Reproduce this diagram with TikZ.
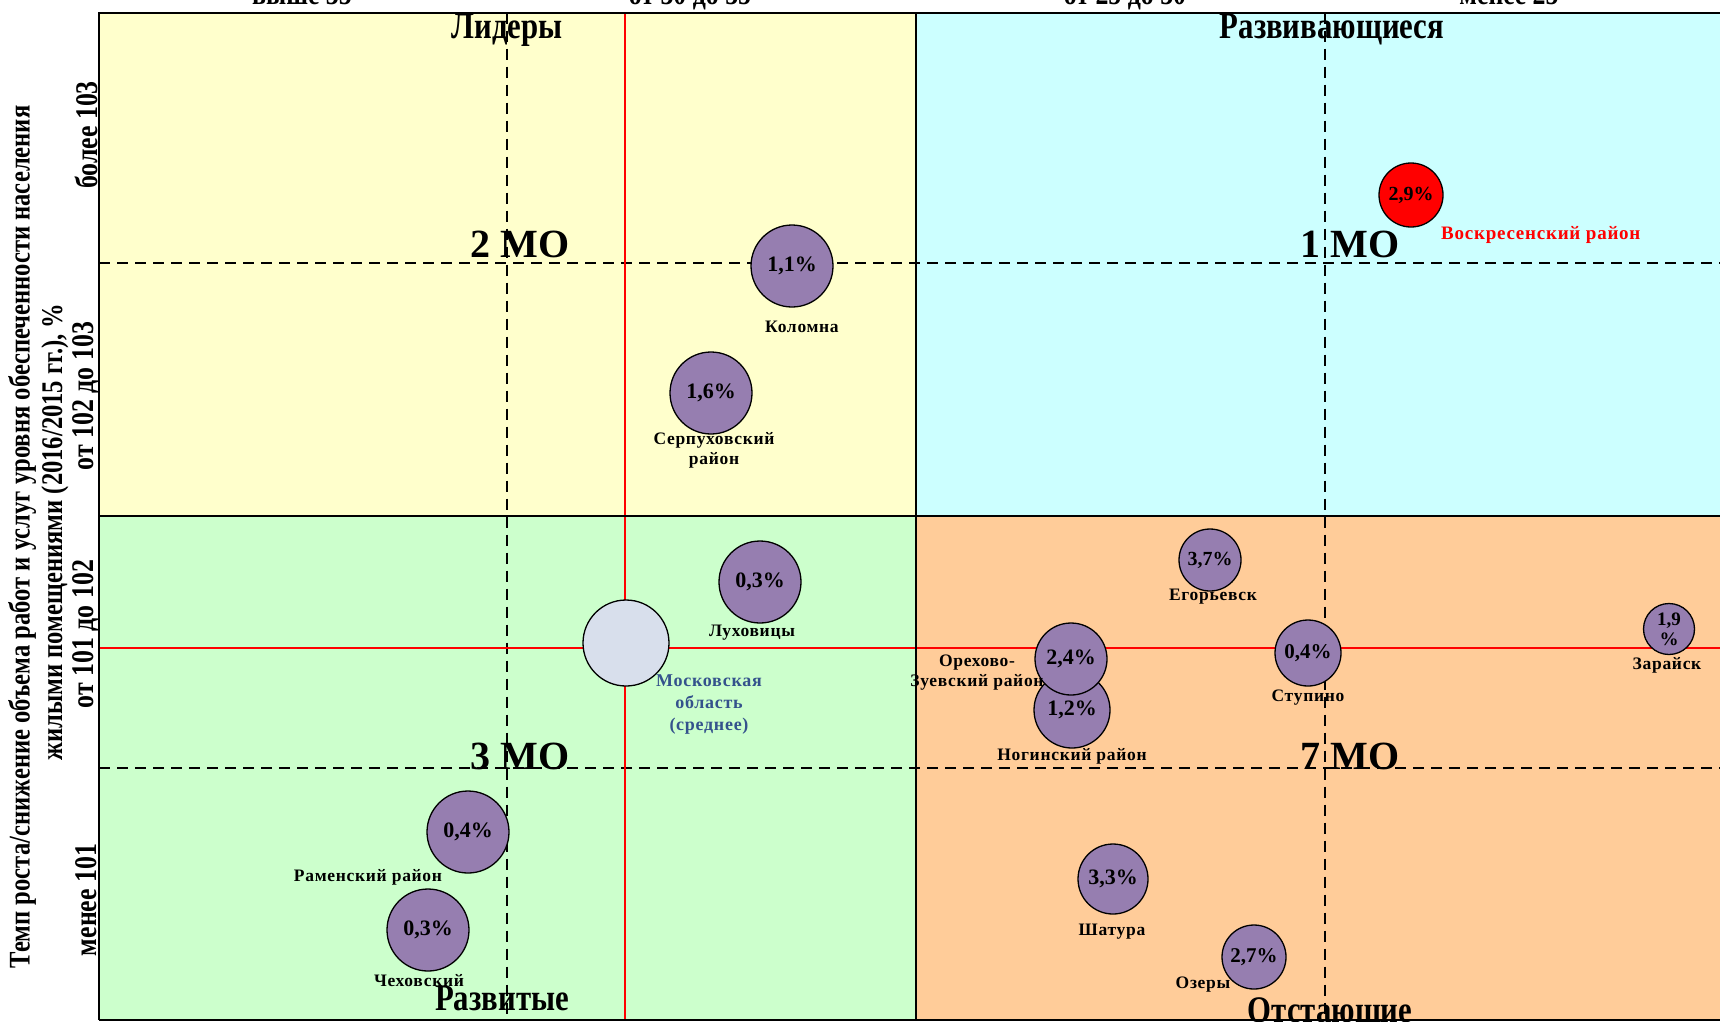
\documentclass[tikz,border=0pt]{standalone}
\usepackage{fontspec}
\setmainfont{Liberation Serif}
\newfontfamily\narrowserif[FakeStretch=0.82]{Liberation Serif}
\newfontfamily\spacedserif[LetterSpace=4]{Liberation Serif}
\usepackage{tikz}

\definecolor{leadfill}{RGB}{255,255,204}
\definecolor{growfill}{RGB}{204,255,255}
\definecolor{devfill}{RGB}{204,255,204}
\definecolor{lagfill}{RGB}{255,204,153}
\definecolor{bubblefill}{RGB}{150,126,176}
\definecolor{avgfill}{RGB}{216,223,236}
\definecolor{avgtext}{RGB}{52,82,140}

\begin{document}
\begin{tikzpicture}[x=1pt, y=-1pt,
    bubble/.style={circle, draw, line width=1.3pt, fill=bubblefill, inner sep=0pt,
      font=\fontsize{22}{22}\selectfont\bfseries},
    place/.style={font=\spacedserif\fontsize{17.5}{20}\selectfont\bfseries, align=center, inner sep=0pt},
    zone/.style={font=\narrowserif\fontsize{37.5}{38}\selectfont\bfseries, inner sep=0pt, anchor=base},
    group/.style={font=\fontsize{40}{40}\selectfont\bfseries, inner sep=0pt, anchor=base},
    axislabel/.style={font=\narrowserif\fontsize{30}{32}\selectfont\bfseries, inner sep=0pt},
    ticklabel/.style={font=\narrowserif\fontsize{31.5}{32}\selectfont\bfseries, inner sep=0pt},
    gridline/.style={line width=1.5pt, dash pattern=on 11pt off 7pt},
    meanline/.style={line width=2.6pt, red}]
            \useasboundingbox (0,0) rectangle (1720,1021);
            \clip (0,0) rectangle (1720,1021);

            % Quadrants
            \fill[leadfill] (99,12.5) rectangle (916,515.5);
            \fill[growfill] (916,12.5) rectangle (1725,515.5);
            \fill[devfill] (99,515.5) rectangle (916,1020);
            \fill[lagfill] (916,515.5) rectangle (1725,1020);

            % Axis texts
            \node[ticklabel, anchor=base] (xa) at (302,4) {выше 35};
            \node[ticklabel, anchor=base] (xb) at (690,4) {от 30 до 35};
            \node[ticklabel, anchor=base] (xc) at (1125,4) {от 25 до 30};
            \node[ticklabel, anchor=base] (xd) at (1509,4) {менее 25};
            \node[axislabel, rotate=90] (ytitle) at (22,537) {Темп роста/снижение объема работ и услуг уровня обеспеченности населения};
            \node[axislabel, rotate=90] (ytitleb) at (55,532) {жилыми помещениями (2016/2015 гг.), \%};
            \node[ticklabel, rotate=90] (ya) at (86,135) {более 103};
            \node[ticklabel, rotate=90] (yb) at (86,396) {от 102 до 103};
            \node[ticklabel, rotate=90] (yc) at (86,634) {от 101 до 102};
            \node[ticklabel, rotate=90] (yd) at (86,900) {менее 101};

            % Zone titles
            \node[zone] (leaders) at (507,38) {Лидеры};
            \node[zone] (growing) at (1332,38) {Развивающиеся};
            \node[zone] (developed) at (502,1010) {Развитые};
            \node[zone] (lagging) at (1330,1022) {Отстающие};
            \node[group] (ga) at (520,257) {2 МО};
            \node[group] (gb) at (1350,257) {1 МО};
            \node[group] (gc) at (520,769) {3 МО};
            \node[group] (gd) at (1350,769) {7 МО};

            % Lines
            \draw[gridline] (507,12.5) -- (507,1020);
            \draw[gridline] (1325,12.5) -- (1325,1020);
            \draw[gridline] (99,263) -- (1725,263);
            \draw[gridline] (99,768) -- (1725,768);
            \draw[meanline] (625,12.5) -- (625,1020);
            \draw[meanline] (99,648) -- (1725,648);
            \draw[line width=2pt] (99,1020) -- (99,12.5) -- (1725,12.5);
            \draw[line width=2pt] (916,12.5) -- (916,1020);
            \draw[line width=2pt] (99,515.5) -- (1725,515.5);
            \draw[line width=2pt] (99,1020) -- (1725,1020);

            % Bubbles
            \node[bubble, minimum size=82pt] (kolomna) at (792,266) {1,1\%};
            \node[bubble, minimum size=82pt] (serpukhov) at (711,393) {1,6\%};
            \node[bubble, minimum size=64pt, fill=red, font=\fontsize{20}{20}\selectfont\bfseries] (voskresensk) at (1411,195) {2,9\%};
            \node[bubble, minimum size=82pt] (lukhovitsy) at (760,582) {0,3\%};
            \node[bubble, minimum size=86pt, fill=avgfill] (oblast) at (626,643) {};
            \node[bubble, minimum size=62pt, font=\fontsize{20}{20}\selectfont\bfseries] (egoryevsk) at (1210,560) {3,7\%};
            \node[bubble, minimum size=76pt] (noginsk) at (1072,710) {1,2\%};
            \node[bubble, minimum size=72pt] (orekhovo) at (1071,659) {2,4\%};
            \node[bubble, minimum size=66pt, font=\fontsize{21}{21}\selectfont\bfseries] (stupino) at (1308,653) {0,4\%};
            \node[bubble, minimum size=51pt, align=center, font=\fontsize{19}{20}\selectfont\bfseries] (zaraysk) at (1669,629) {1,9\\\%};
            \node[bubble, minimum size=82pt] (ramenskoe) at (468,832) {0,4\%};
            \node[bubble, minimum size=82pt] (chekhov) at (428,930) {0,3\%};
            \node[bubble, minimum size=70pt] (shatura) at (1113,879) {3,3\%};
            \node[bubble, minimum size=64pt, font=\fontsize{21}{21}\selectfont\bfseries] (ozery) at (1254,957) {2,7\%};

            % Names
            \node[place] (kolomnaname) at (802,327) {Коломна};
            \node[place] (serpukhovname) at (714,450) {Серпуховский\\район};
            \node[place, red, anchor=west, font=\spacedserif\fontsize{19}{20}\selectfont\bfseries] (voskresenskname) at (1441,235) {Воскресенский район};
            \node[place] (lukhovitsyname) at (752,633) {Луховицы};
            \node[place, avgtext, font=\spacedserif\fontsize{18}{22}\selectfont\bfseries] (oblastname) at (709,705) {Московская\\область\\(среднее)};
            \node[place] (egoryevskname) at (1213,597) {Егорьевск};
            \node[place] (orekhovoname) at (977,673) {Орехово-\\Зуевский район};
            \node[place] (noginskname) at (1072,756) {Ногинский район};
            \node[place] (stupinoname) at (1308,698) {Ступино};
            \node[place] (zarayskname) at (1667,665) {Зарайск};
            \node[place] (ramenskoename) at (368,877) {Раменский район};
            \node[place] (chekhovname) at (419,981) {Чеховский};
            \node[place] (shaturaname) at (1112,932) {Шатура};
            \node[place] (ozeryname) at (1203,985) {Озеры};
        \end{tikzpicture}
\end{document}
